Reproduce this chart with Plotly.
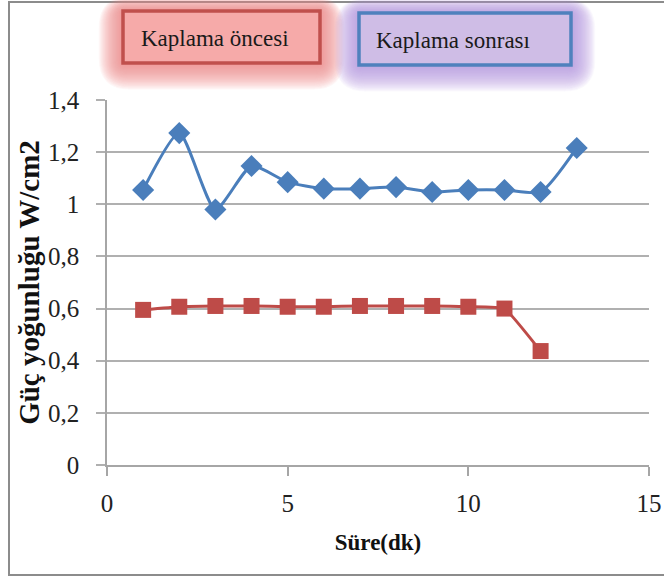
import plotly.graph_objects as go

# Data
sure = [1, 2, 3, 4, 5, 6, 7, 8, 9, 10, 11, 12, 13]
sonrasi = [1.055, 1.273, 0.98, 1.147, 1.085, 1.06, 1.06, 1.066, 1.047, 1.055, 1.055, 1.047, 1.216]
sure_oncesi = [1, 2, 3, 4, 5, 6, 7, 8, 9, 10, 11, 12]
oncesi = [0.595, 0.607, 0.61, 0.61, 0.607, 0.607, 0.61, 0.61, 0.61, 0.607, 0.6, 0.437]
legend_labels = ["Kaplama öncesi", "Kaplama sonrası"]

W, H = 664, 581
L, R, T, B = 107, 15, 100, 116
PW, PH = W - L - R, H - T - B

def px(x):
    return (x - L) / PW

def py(y):
    return (H - B - y) / PH

SERIF = '"Liberation Serif", "Times New Roman", Times, serif'
BLUE = "#4a7ebb"
RED = "#be4b48"

fig = go.Figure()
fig.add_trace(go.Scatter(
    x=sure, y=sonrasi, mode="lines+markers", line=dict(color=BLUE, width=3, shape="spline", smoothing=0.6),
    marker=dict(symbol="diamond", size=17, color=BLUE), showlegend=False, name=legend_labels[1]))
fig.add_trace(go.Scatter(
    x=sure_oncesi, y=oncesi, mode="lines+markers", line=dict(color=RED, width=3, shape="spline", smoothing=0.3),
    marker=dict(symbol="square", size=16, color=RED), showlegend=False, name=legend_labels[0]))

shapes = []
# outer frame
shapes.append(dict(type="rect", xref="paper", yref="paper", x0=px(9), x1=px(680), y0=py(2), y1=py(575),
                   line=dict(color="#8c8c8c", width=2), fillcolor="rgba(0,0,0,0)", layer="below"))

def rounded_path(x0, y0, x1, y1, r):
    def P(x, y):
        return "%.5f,%.5f" % (px(x), py(y))
    return ("M " + P(x0 + r, y0) + " L " + P(x1 - r, y0) + " Q " + P(x1, y0) + " " + P(x1, y0 + r) +
            " L " + P(x1, y1 - r) + " Q " + P(x1, y1) + " " + P(x1 - r, y1) +
            " L " + P(x0 + r, y1) + " Q " + P(x0, y1) + " " + P(x0, y1 - r) +
            " L " + P(x0, y0 + r) + " Q " + P(x0, y0) + " " + P(x0 + r, y0) + " Z")

def glow_box(x0, y0, x1, y1, glow_rgb, fill, border):
    n = 22
    for i in range(n, 0, -1):
        d = i * 1.1
        shapes.append(dict(type="path", xref="paper", yref="paper",
                           path=rounded_path(x0 - d, y0 - d * 0.6, x1 + d, y1 + d * 1.1, d * 1.2 + 2),
                           line=dict(width=0), fillcolor="rgba(%s,0.065)" % glow_rgb, layer="below"))
    shapes.append(dict(type="rect", xref="paper", yref="paper", x0=px(x0), x1=px(x1), y0=py(y0), y1=py(y1),
                       line=dict(color=border, width=3.5), fillcolor=fill, layer="above"))

glow_box(123, 11, 320, 63, "242,130,130", "#f6aaa9", "#c0504d")
glow_box(359, 13, 571, 65, "185,155,222", "#cfbde6", "#4f81bd")

annotations = [
    dict(text=legend_labels[0], xref="paper", yref="paper", x=px(139), y=py(38), xanchor="left", yanchor="middle",
         showarrow=False, font=dict(family=SERIF, size=23, color="#1a1a1a")),
    dict(text=legend_labels[1], xref="paper", yref="paper", x=px(374), y=py(40), xanchor="left", yanchor="middle",
         showarrow=False, font=dict(family=SERIF, size=23, color="#1a1a1a")),
]

fig.update_layout(
    width=W, height=H, margin=dict(l=L, r=R, t=T, b=B, autoexpand=False),
    paper_bgcolor="white", plot_bgcolor="white",
    separators=",.",
    font=dict(family=SERIF, size=20, color="#222"),
    shapes=shapes, annotations=annotations,
    xaxis=dict(range=[0, 15], dtick=5, tick0=0, showgrid=False, zeroline=False, automargin=False,
               showline=True, linecolor="#a6a6a6", linewidth=1.5,
               ticks="outside", ticklen=9, tickcolor="#a6a6a6", tickwidth=1.5,
               tickfont=dict(family=SERIF, size=25, color="#222"), ticklabelstandoff=6,
               title=dict(text="<b>Süre(dk)</b>", font=dict(family=SERIF, size=23, color="#111"), standoff=18)),
    yaxis=dict(range=[0, 1.4], dtick=0.2, tick0=0, showgrid=True, gridcolor="#b0b0b0", gridwidth=1.5,
               zeroline=False, showline=True, linecolor="#a6a6a6", linewidth=1.5, automargin=False,
               ticks="outside", ticklen=9, tickcolor="#b0b0b0", tickwidth=1.5,
               tickfont=dict(family=SERIF, size=25, color="#222"), ticklabelstandoff=12,
               title=dict(text="<b>Güç yoğunluğu W/cm2</b>", font=dict(family=SERIF, size=29, color="#111"), standoff=0)),
)

fig.write_html("out.html")
